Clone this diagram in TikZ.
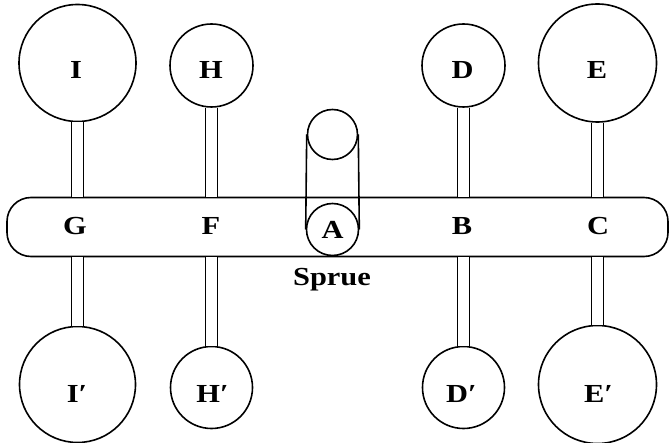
\documentclass[tikz,border=0pt]{standalone}
\usepackage{fontspec}
\setmainfont{Liberation Serif}[FakeStretch=1.17]
\begin{document}
\begin{tikzpicture}[x=1pt,y=-1pt,
  ring/.style={draw, circle, line width=1.6pt, inner sep=0pt},
  stem/.style={double distance=11pt, line width=1.4pt},
  lbl/.style={font=\fontsize{26}{30}\selectfont\bfseries, inner sep=0pt, anchor=base},
  runner/.style={draw, line width=1.6pt, rounded corners=24pt, inner sep=0pt}]
\useasboundingbox (0,0) rectangle (669,443);
% runner bar
\node[runner, minimum width=661pt, minimum height=59pt] (bar) at (337.5,227) {};
% cavities
\node[ring, minimum size=117pt] (I) at (77.5,63) {};
\node[ring, minimum size=83pt] (H) at (211.5,65.5) {};
\node[ring, minimum size=83pt] (D) at (463.5,65.5) {};
\node[ring, minimum size=118pt] (E) at (597.5,63) {};
\node[ring, minimum size=116pt] (I2) at (77.5,384.5) {};
\node[ring, minimum size=82pt] (H2) at (211.5,387.5) {};
\node[ring, minimum size=82pt] (D2) at (463.5,387.5) {};
\node[ring, minimum size=118pt] (E2) at (597.5,384.5) {};
% stems
\foreach \n in {I,H,D,E} \draw[stem] (\n.south) -- (\n.south |- bar.north);
\foreach \n in {I2,H2,D2,E2} \draw[stem] (\n.north) -- (\n.north |- bar.south);
% cavity labels
\node[lbl] (tI) at (76,79) {I};
\node[lbl] (tH) at (211,79) {H};
\node[lbl] (tD) at (462.5,79) {D};
\node[lbl] (tE) at (597,79) {E};
\node[lbl] (tI2) at (77,402.5) {I′};
\node[lbl] (tH2) at (212.5,402.5) {H′};
\node[lbl] (tD2) at (461.5,402.5) {D′};
\node[lbl] (tE2) at (598.5,402.5) {E′};
% labels on the runner
\node[lbl] (G) at (75,235) {G};
\node[lbl] (F) at (211,235) {F};
\node[lbl] (B) at (462,235) {B};
\node[lbl] (C) at (598,235) {C};
% sprue
\node[ring, minimum size=50pt] (st) at (332.5,134.5) {};
\node[ring, minimum size=52pt] (A) at (332.5,229.5) {};
\node[lbl] (tA) at (332.5,239) {A};
\draw[line width=1.6pt] (st.west) -- (A.west);
\draw[line width=1.6pt] (st.east) -- (A.east);
\node[lbl] (sp) at (332,285.5) {Sprue};
\end{tikzpicture}
\end{document}
